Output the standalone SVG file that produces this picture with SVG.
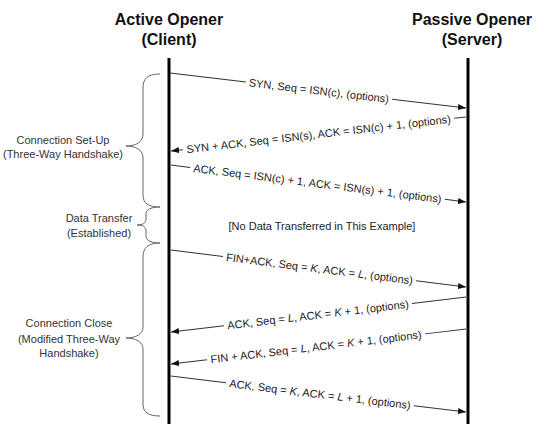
<svg xmlns="http://www.w3.org/2000/svg" width="538" height="424" viewBox="0 0 538 424">
  <style>
    .hdr { font-family: "Liberation Sans", Arial, sans-serif; font-size: 16px; font-weight: bold; fill: #111; text-anchor: middle; }
    .lbl { font-family: "Liberation Sans", Arial, sans-serif; font-size: 11px; fill: #333; text-anchor: middle; }
    .msg { font-family: "Liberation Sans", Arial, sans-serif; font-size: 11px; fill: #222; text-anchor: middle; }
    .life { stroke: #000; stroke-width: 3; fill: none; }
    .wire { stroke: #333; stroke-width: 1; fill: none; }
    .brace { stroke: #666; stroke-width: 1; fill: none; }
    .arr { marker-end: url(#head); }
    .it { font-style: italic; }
  </style>
  <defs>
    <marker id="head" viewBox="0 0 8 6" refX="8" refY="3" markerWidth="8" markerHeight="6" markerUnits="userSpaceOnUse" orient="auto">
      <path d="M0,0 L8,3 L0,6 Z" fill="#111"/>
    </marker>
  </defs>

  <rect width="538" height="424" fill="#fff"/>

  <!-- endpoints -->
  <g id="client">
    <text class="hdr" x="169" y="25">Active Opener</text>
    <text class="hdr" x="169" y="44.5">(Client)</text>
    <line class="life" x1="169" y1="58" x2="169" y2="424"/>
  </g>
  <g id="server">
    <text class="hdr" x="472" y="25">Passive Opener</text>
    <text class="hdr" x="472" y="44.5">(Server)</text>
    <line class="life" x1="468" y1="58" x2="468" y2="424"/>
  </g>

  <!-- phase brackets -->
  <g id="setup">
    <path class="brace" d="M160,74 C148,74 143,78 143,88 V134 C143,142 136,146 126,146 C136,146 143,150 143,158 V195 C143,203 148,207 160,207"/>
    <text class="lbl" x="63" y="144">Connection Set-Up</text>
    <text class="lbl" x="63" y="157.5">(Three-Way Handshake)</text>
  </g>
  <g id="transfer">
    <path class="brace" d="M160,207 C152,207 146,209 146,214 V219 C146,223 143,225 137,225 C143,225 146,227 146,231 V236 C146,241 152,243 160,243"/>
    <text class="lbl" x="99" y="222">Data Transfer</text>
    <text class="lbl" x="99" y="237">(Established)</text>
  </g>
  <g id="close">
    <path class="brace" d="M160,243 C148,243 143,248 143,257 V327 C143,334 136,338 126,338 C136,338 143,342 143,349 V404 C143,412 148,416 160,416"/>
    <text class="lbl" x="69" y="327">Connection Close</text>
    <text class="lbl" x="69" y="343">(Modified Three-Way</text>
    <text class="lbl" x="69" y="356.5">Handshake)</text>
  </g>

  <text id="note" class="msg" x="322" y="230">[No Data Transferred in This Example]</text>

  <!-- segments -->
  <g id="connectors">
    <g transform="translate(170,73) rotate(6.744)">
      <path class="wire" d="M0,0 H76.5"/>
      <path class="wire arr" d="M223.5,0 H298.1"/>
      <text class="msg" x="150" y="4">SYN, Seq = ISN(c), (options)</text>
    </g>
    <g transform="translate(171,151) rotate(-6.574)">
      <path class="wire" d="M296.9,0 H285.1"/>
      <path class="wire arr" d="M11.9,0 H0"/>
      <text class="msg" x="148.5" y="4">SYN + ACK, Seq = ISN(s), ACK = ISN(c) + 1, (options)</text>
    </g>
    <g transform="translate(171,165) rotate(7.149)">
      <path class="wire" d="M0,0 H19.2"/>
      <path class="wire arr" d="M276,0 H297.3"/>
      <text class="msg" x="147.6" y="4">ACK, Seq = ISN(c) + 1, ACK = ISN(s) + 1, (options)</text>
    </g>
    <g transform="translate(171,250) rotate(7.149)">
      <path class="wire" d="M0,0 H52.4"/>
      <path class="wire arr" d="M247,0 H297.3"/>
      <text class="msg" x="149.7" y="4">FIN+ACK, Seq = <tspan class="it">K</tspan>, ACK = <tspan class="it">L</tspan>, (options)</text>
    </g>
    <g transform="translate(171,332) rotate(-6.766)">
      <path class="wire" d="M297.1,0 H242.6"/>
      <path class="wire arr" d="M53.4,0 H0"/>
      <text class="msg" x="148" y="4">ACK, Seq = <tspan class="it">L</tspan>, ACK = <tspan class="it">K</tspan> + 1, (options)</text>
    </g>
    <g transform="translate(171,364) rotate(-6.766)">
      <path class="wire" d="M297.1,0 H255.7"/>
      <path class="wire arr" d="M36.3,0 H0"/>
      <text class="msg" x="146" y="4">FIN + ACK, Seq = <tspan class="it">L</tspan>, ACK = <tspan class="it">K</tspan> + 1, (options)</text>
    </g>
    <g transform="translate(171,376) rotate(6.958)">
      <path class="wire" d="M0,0 H55.5"/>
      <path class="wire arr" d="M244.7,0 H297.2"/>
      <text class="msg" x="150.1" y="4">ACK, Seq = <tspan class="it">K</tspan>, ACK = <tspan class="it">L</tspan> + 1, (options)</text>
    </g>
  </g>
</svg>
